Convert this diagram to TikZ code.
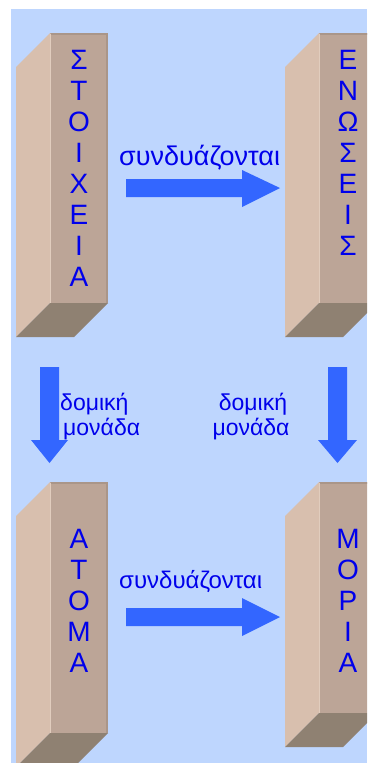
\documentclass[tikz,border=0pt]{standalone}
\usepackage{fontspec}
\setmainfont{Liberation Sans}
\definecolor{bg}{RGB}{190,214,254}
\definecolor{frontc}{RGB}{188,165,151}
\definecolor{sidec}{RGB}{216,191,174}
\definecolor{bottomc}{RGB}{143,129,114}
\definecolor{edgec}{RGB}{170,150,137}
\definecolor{lightedge}{RGB}{225,205,190}
\definecolor{arrowc}{RGB}{51,102,255}
\definecolor{txtc}{RGB}{0,0,235}
\tikzset{
  frontface/.style={fill=frontc, draw=none, inner sep=0pt, minimum width=58pt, anchor=north west},
  letters/.style={text=txtc, font=\fontsize{28}{31}\selectfont, align=center, inner sep=0pt, anchor=north},
  lbl/.style={text=txtc, inner sep=0pt},
}
% name, x, y, h
\newcommand\drawslab[4]{%
  \fill[sidec] (#2,#3) -- ({#2-34},{#3+34}) -- ({#2-34},{#3+#4+34}) -- (#2,{#3+#4}) -- cycle;
  \fill[bottomc] (#2,{#3+#4}) -- ({#2+58},{#3+#4}) -- ({#2+24},{#3+#4+34}) -- ({#2-34},{#3+#4+34}) -- cycle;
  \node[frontface, minimum height=#4 pt] (#1) at (#2,#3) {};
  \draw[edgec, line width=2pt] ({#2+1},{#3+1}) -- ({#2+57},{#3+1}) -- ({#2+57},{#3+#4});
  \draw[lightedge, line width=1pt] ({#2+0.5},{#3+1}) -- ({#2+0.5},{#3+#4});
}
\begin{document}
\begin{tikzpicture}[x=1pt,y=-1pt]
\clip (0,0) rectangle (367,763);
\fill[white] (0,0) rectangle (367,763);
\fill[bg] (11,9) rectangle (367,763);

\drawslab{stoixeia}{50}{33}{270}
\drawslab{enoseis}{319}{33}{270}
\drawslab{atoma}{50}{482}{251}
\drawslab{moria}{319}{482}{231}

\node[letters] (t1) at (79,50) {Σ\\Τ\\Ο\\Ι\\Χ\\Ε\\Ι\\Α};
\node[letters] (t2) at (348,50) {Ε\\Ν\\Ω\\Σ\\Ε\\Ι\\Σ};
\node[letters] (t3) at (79,529) {Α\\Τ\\Ο\\Μ\\Α};
\node[letters] (t4) at (348,529) {Μ\\Ο\\Ρ\\Ι\\Α};

% horizontal arrows
\fill[arrowc] (126,179) -- (242,179) -- (242,170) -- (280,188) -- (242,207) -- (242,197) -- (126,197) -- cycle;
\fill[arrowc] (126,608) -- (242,608) -- (242,598) -- (280,617) -- (242,636) -- (242,626) -- (126,626) -- cycle;
% vertical arrows
\fill[arrowc] (40,367) -- (59,367) -- (59,440) -- (68,440) -- (49.5,463) -- (31,440) -- (40,440) -- cycle;
\fill[arrowc] (328,367) -- (347,367) -- (347,440) -- (357,440) -- (337.5,463) -- (318,440) -- (328,440) -- cycle;

\node[lbl, anchor=base west, font=\fontsize{27}{30}\selectfont] (c1) at (119,165) {συνδυάζονται};
\node[lbl, anchor=base west, font=\fontsize{24}{28}\selectfont] (c2) at (119,588) {συνδυάζονται};
\node[lbl, anchor=base west, font=\fontsize{23}{25}\selectfont] (d1a) at (60,410) {δομική};
\node[lbl, anchor=base west, font=\fontsize{23}{25}\selectfont] (d1b) at (63,435) {μονάδα};
\node[lbl, anchor=base, font=\fontsize{23}{25}\selectfont] (d2a) at (253,410) {δομική};
\node[lbl, anchor=base, font=\fontsize{23}{25}\selectfont] (d2b) at (251,435) {μονάδα};
\end{tikzpicture}
\end{document}
